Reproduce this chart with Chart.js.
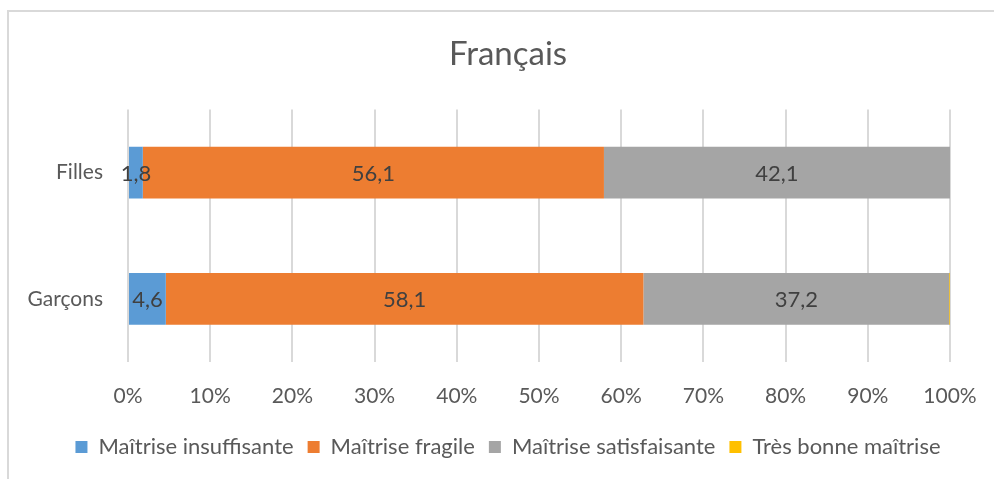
<!DOCTYPE html>
<html>
<head>
<meta charset="utf-8">
<script src="https://cdn.jsdelivr.net/npm/chart.js@4/dist/chart.umd.min.js"></script>
<style>
  html, body { margin: 0; padding: 0; background: #fff; overflow: hidden; }
  #wrap { position: relative; width: 994px; height: 479px; overflow: hidden; }
  #frame { position: absolute; left: 7px; top: 10px; width: 1100px; height: 600px;
           border: 2px solid #d9d9d9; box-sizing: border-box; }
  canvas { position: absolute; left: 0; top: 0; }
</style>
</head>
<body>
<div id="wrap">
  <div id="frame"></div>
  <canvas id="chart" width="1016" height="479"></canvas>
</div>
<script>
// données
const categories = ['Filles', 'Garçons'];
const seriesNames = ['Maîtrise insuffisante', 'Maîtrise fragile', 'Maîtrise satisfaisante', 'Très bonne maîtrise'];
const insuffisante = [1.8, 4.6];
const fragile = [56.1, 58.1];
const satisfaisante = [42.1, 37.2];
const tresBonne = [0, 0.1];
const tickValues = [0, 10, 20, 30, 40, 50, 60, 70, 80, 90, 100];

const colors = ['#5B9BD5', '#ED7D31', '#A5A5A5', '#FFC000'];
const fontFamily = 'Lato, "Open Sans", sans-serif';

// étiquettes de données au centre de chaque segment
const barLabels = {
  id: 'barLabels',
  afterDatasetsDraw(chart) {
    const ctx = chart.ctx;
    ctx.save();
    ctx.font = '22px ' + fontFamily;
    ctx.fillStyle = '#404040';
    ctx.textAlign = 'center';
    ctx.textBaseline = 'middle';
    chart.data.datasets.forEach((ds, i) => {
      const meta = chart.getDatasetMeta(i);
      meta.data.forEach((bar, j) => {
        const v = ds.data[j];
        if (v < 1) return;
        const cx = (bar.x + bar.base) / 2;
        ctx.fillText(String(v).replace('.', ','), cx, bar.y + 1);
      });
    });
    ctx.restore();
  }
};

new Chart(document.getElementById('chart'), {
  type: 'bar',
  data: {
    labels: categories,
    datasets: [insuffisante, fragile, satisfaisante, tresBonne].map((d, i) => ({
      label: seriesNames[i],
      data: d,
      backgroundColor: colors[i],
      borderWidth: 0,
      categoryPercentage: 1,
      barPercentage: 0.41
    }))
  },
  options: {
    indexAxis: 'y',
    responsive: false,
    animation: false,
    layout: { padding: { left: 0, right: 0, top: 0, bottom: 11 } },
    plugins: {
      title: {
        display: true,
        text: 'Français',
        color: '#595959',
        font: { family: fontFamily, size: 33, weight: 'normal' },
        padding: { top: 35, bottom: 35 }
      },
      legend: {
        position: 'bottom',
        labels: {
          color: '#595959',
          font: { family: fontFamily, size: 22 },
          boxWidth: 12,
          boxHeight: 12,
          padding: 14
        }
      },
      tooltip: { enabled: false }
    },
    scales: {
      x: {
        stacked: true,
        min: 0,
        max: 100,
        afterBuildTicks: (scale) => { scale.ticks = tickValues.map(v => ({ value: v })); },
        afterFit: (scale) => { scale.height = 60; },
        grid: { color: '#d9d9d9', lineWidth: 2, drawTicks: false },
        border: { display: false },
        ticks: {
          color: '#595959',
          font: { family: fontFamily, size: 21 },
          padding: 22,
          callback: (v) => v + '%'
        }
      },
      y: {
        stacked: true,
        afterFit: (scale) => { scale.width = 128; },
        grid: { display: false },
        border: { display: false },
        ticks: {
          color: '#595959',
          font: { family: fontFamily, size: 21 },
          padding: 17
        }
      },
      // marge droite vide, pour centrer le titre et la légende comme dans Excel
      yRight: {
        position: 'right',
        afterFit: (scale) => { scale.width = 66; },
        grid: { display: false },
        border: { display: false },
        ticks: { display: false }
      }
    }
  },
  plugins: [barLabels]
});
</script>
</body>
</html>
